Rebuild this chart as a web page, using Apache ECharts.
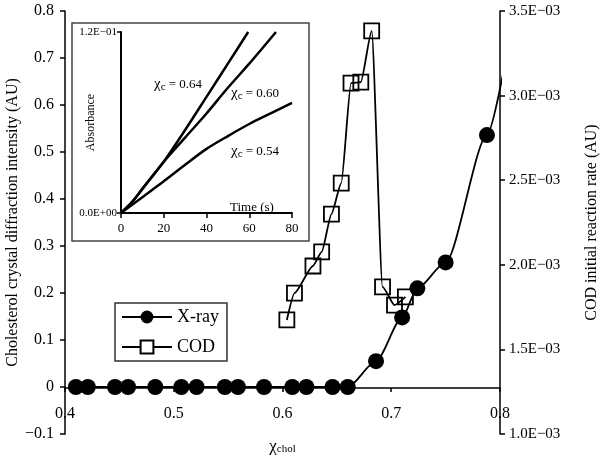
<!DOCTYPE html>
<html>
<head>
<meta charset="utf-8">
<script src="https://cdn.jsdelivr.net/npm/echarts@6/dist/echarts.min.js"></script>
<style>
  html, body { margin: 0; padding: 0; background: #fff; }
  #chart { width: 603px; height: 459px; }
</style>
</head>
<body>
<div id="chart"></div>
<script>
// main plot: X-ray intensity (left axis) and COD rate (right axis) vs chol fraction
const xrayChol = [0.410, 0.421, 0.446, 0.458, 0.483, 0.507, 0.521, 0.547, 0.559, 0.583, 0.609, 0.622, 0.646, 0.660, 0.686, 0.710, 0.724, 0.750, 0.788, 0.808]
const xrayIntensity = [0, 0, 0, 0, 0, 0, 0, 0, 0, 0, 0, 0, 0, 0, 0.055, 0.148, 0.21, 0.265, 0.536, 0.73]
const codChol = [0.604, 0.611, 0.628, 0.636, 0.645, 0.654, 0.663, 0.672, 0.682, 0.692, 0.703, 0.713]
const codRate = [1.674e-3, 1.833e-3, 1.993e-3, 2.076e-3, 2.300e-3, 2.483e-3, 3.074e-3, 3.080e-3, 3.382e-3, 1.869e-3, 1.762e-3, 1.810e-3]

// inset: absorbance vs time for three chol fractions
const time64 = [0, 5, 10, 20, 30, 40, 50, 59.5]
const abs64 = [0, 0.007, 0.016, 0.034, 0.055, 0.077, 0.099, 0.12]
const time60 = [0, 5, 10, 20, 30, 40, 50, 60, 72.5]
const abs60 = [0, 0.007, 0.016, 0.034, 0.050, 0.066, 0.083, 0.099, 0.12]
const time54 = [0, 10, 20, 30, 40, 50, 60, 70, 80]
const abs54 = [0, 0.0105, 0.021, 0.032, 0.0425, 0.051, 0.059, 0.066, 0.073]

const serif = 'Liberation Serif'
const ink = '#000'

const sci = (v) => {
  const [m, e] = v.toExponential(1).split('e')
  const n = Number(e)
  return m + 'E' + (n < 0 ? '\u2212' : '+') + String(Math.abs(n)).padStart(2, '0')
}
const signed = (v) => (v < 0 ? '\u2212' + String(-v) : String(v))
const pairs = (xs, ys) => xs.map((x, i) => [x, ys[i]])

const chiLabel = (sub, rest, x, y) => ({
  type: 'text', x, y,
  style: {
    text: `{g|χ}{s|${sub}}{t|${rest}}`,
    rich: {
      g: { fontFamily: serif, fontSize: 15, fill: ink },
      s: { fontFamily: serif, fontSize: 11, fill: ink, padding: [6, 0, 0, 0] },
      t: { fontFamily: serif, fontSize: 13, fill: ink },
    },
  },
})

const chart = echarts.init(document.getElementById('chart'))

chart.setOption({
  animation: false,
  backgroundColor: '#fff',
  textStyle: { fontFamily: serif, color: ink },
  grid: [
    { left: 65, top: 11, right: 103, bottom: 25, outerBoundsMode: 'none' },
    { left: 121, top: 32, width: 171, height: 181, outerBoundsMode: 'none' },
    // x axis drawn at the zero line of the left axis
    { left: 65, top: 11, right: 103, bottom: 71, outerBoundsMode: 'none' },
  ],
  xAxis: [
    {
      type: 'value', gridIndex: 0, min: 0.4, max: 0.8, interval: 0.1, show: false,
    },
    {
      type: 'value', gridIndex: 1, min: 0, max: 80, interval: 20,
      axisLine: { lineStyle: { color: ink, width: 2 } },
      axisTick: { show: true, length: 5, lineStyle: { color: ink, width: 1.5 } },
      axisLabel: { fontSize: 13, color: ink, fontFamily: serif, margin: 9 },
      splitLine: { show: false },
    },
    {
      type: 'value', gridIndex: 2, min: 0.4, max: 0.8, interval: 0.1,
      axisLine: { onZero: false, lineStyle: { color: ink, width: 1.5 } },
      axisTick: { show: true, length: 4, lineStyle: { color: ink, width: 1.5 } },
      axisLabel: { fontSize: 16, color: ink, fontFamily: serif, margin: 18 },
      splitLine: { show: false },
      name: '{g|χ}{s|chol}', nameLocation: 'middle', nameGap: 50, nameMoveOverlap: false,
      nameTextStyle: {
        rich: {
          g: { fontFamily: serif, fontSize: 17, color: ink },
          s: { fontFamily: serif, fontSize: 11, color: ink, padding: [6, 0, 0, 0] },
        },
      },
    },
  ],
  yAxis: [
    {
      type: 'value', gridIndex: 0, min: -0.1, max: 0.8, interval: 0.1,
      axisLine: { show: true, onZero: false, lineStyle: { color: ink, width: 1.5 } },
      axisTick: { show: true, length: 5, lineStyle: { color: ink, width: 1.5 } },
      axisLabel: { fontSize: 16, color: ink, fontFamily: serif, margin: 11, formatter: signed },
      splitLine: { show: false },
      name: 'Cholesterol crystal diffraction intensity (AU)',
      nameLocation: 'middle', nameRotate: 90, nameGap: 44, nameMoveOverlap: false,
      nameTextStyle: { fontSize: 16, fontFamily: serif, color: ink },
    },
    {
      type: 'value', gridIndex: 0, position: 'right', min: 1e-3, max: 3.5e-3, interval: 0.5e-3,
      axisLine: { show: true, onZero: false, lineStyle: { color: ink, width: 1.5 } },
      axisTick: { show: true, length: 5, lineStyle: { color: ink, width: 1.5 } },
      axisLabel: { fontSize: 15, color: ink, fontFamily: serif, margin: 9, formatter: sci },
      splitLine: { show: false },
      name: 'COD initial reaction rate (AU)',
      nameLocation: 'middle', nameRotate: 90, nameGap: 84, nameMoveOverlap: false,
      nameTextStyle: { fontSize: 16, fontFamily: serif, color: ink },
    },
    {
      type: 'value', gridIndex: 1, min: 0, max: 0.12, interval: 0.12,
      axisLine: { show: true, lineStyle: { color: ink, width: 2 } },
      axisTick: { show: true, length: 4, lineStyle: { color: ink, width: 1.5 } },
      axisLabel: { fontSize: 11, color: ink, fontFamily: serif, margin: 4, formatter: sci },
      splitLine: { show: false },
      name: 'Absorbance', nameLocation: 'middle', nameRotate: 90, nameGap: 24, nameMoveOverlap: false,
      nameTextStyle: { fontSize: 12, fontFamily: serif, color: ink },
    },
    { type: 'value', gridIndex: 2, show: false },
  ],
  legend: {
    orient: 'vertical', left: 115, top: 303,
    itemWidth: 50, itemHeight: 16, itemGap: 12,
    padding: [5, 8, 5, 6],
    borderColor: '#333', borderWidth: 1.5,
    textStyle: { fontSize: 18, fontFamily: serif, color: ink },
    data: [
      { name: 'X-ray' },
      { name: 'COD', itemStyle: { color: '#fff' } },
    ],
  },
  graphic: [
    {
      type: 'rect', z: 0, silent: true,
      shape: { x: 72, y: 23, width: 237, height: 218 },
      style: { fill: 'none', stroke: '#444', lineWidth: 1.5 },
    },
    chiLabel('c', ' = 0.64', 154, 76),
    chiLabel('c', ' = 0.60', 231, 85),
    chiLabel('c', ' = 0.54', 231, 143),
    {
      type: 'text', x: 230, y: 201,
      style: { text: 'Time (s)', fontFamily: serif, fontSize: 13, fill: ink },
    },
  ],
  series: [
    {
      name: 'X-ray', type: 'line', xAxisIndex: 0, yAxisIndex: 0,
      data: pairs(xrayChol, xrayIntensity).map((p, i, a) =>
        i === a.length - 1 ? { value: p, symbol: 'none' } : p),
      smooth: 0.25, smoothMonotone: 'x', clip: false,
      symbol: 'circle', symbolSize: 16,
      itemStyle: { color: ink },
      lineStyle: { color: ink, width: 1.8 },
      z: 3,
    },
    {
      name: 'COD', type: 'line', xAxisIndex: 0, yAxisIndex: 1,
      data: pairs(codChol, codRate),
      smooth: 0.2, smoothMonotone: 'x',
      symbol: 'rect', symbolSize: 15,
      itemStyle: { color: 'rgba(0,0,0,0)', borderColor: ink, borderWidth: 1.8 },
      lineStyle: { color: ink, width: 1.8 },
      z: 3,
    },
    ...[[time64, abs64], [time60, abs60], [time54, abs54]].map(([t, a]) => ({
      type: 'line', xAxisIndex: 1, yAxisIndex: 2,
      data: pairs(t, a), smooth: 0.3, showSymbol: false, symbol: 'none',
      lineStyle: { color: ink, width: 2.5 },
    })),
  ],
})
</script>
</body>
</html>
